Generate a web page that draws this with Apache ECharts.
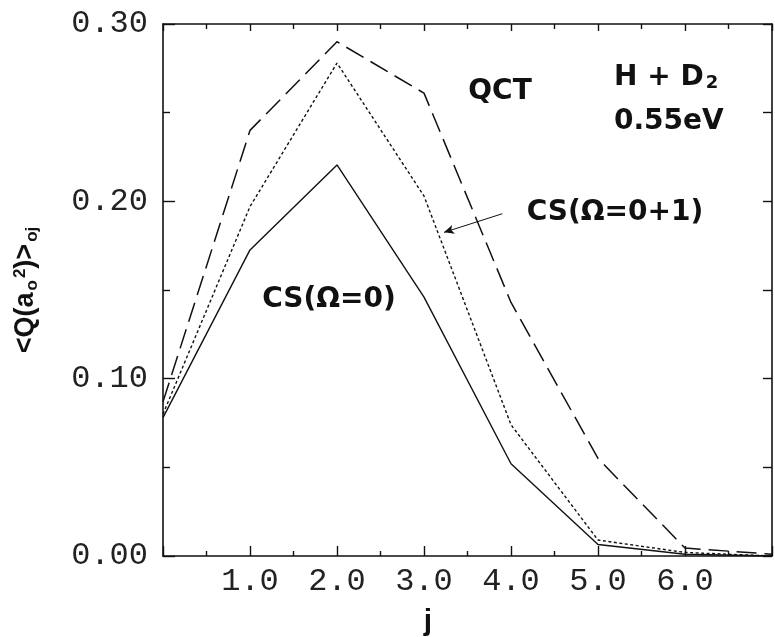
<!DOCTYPE html>
<html>
<head>
<meta charset="utf-8">
<script src="https://cdn.jsdelivr.net/npm/echarts@6/dist/echarts.min.js"></script>
<style>
html,body{margin:0;padding:0;background:#fff;}
#chart{width:775px;height:637px;}
</style>
</head>
<body>
<div id="chart"></div>
<script>
// Data
var jValues = [0, 1, 2, 3, 4, 5, 6, 7];
var qct     = [0.087, 0.240, 0.290, 0.261, 0.143, 0.055, 0.0045, 0.001];
var cs01    = [0.080, 0.197, 0.278, 0.203, 0.074, 0.009, 0.002, 0.000];
var cs0     = [0.078, 0.1726, 0.2205, 0.146, 0.052, 0.0065, 0.001, 0.000];
var xTickLabels = ['', '1.0', '2.0', '3.0', '4.0', '5.0', '6.0', ''];
var yTickLabels = ['0.00', '0.10', '0.20', '0.30'];
var arrowFrom = [3.90, 0.193];
var arrowTo   = [3.23, 0.1825];

function pairs(ys){ return jValues.map(function(x,i){ return [x, ys[i]]; }); }

var chart = echarts.init(document.getElementById('chart'), null, {renderer:'canvas'});
var tickFont = {fontFamily:'Liberation Mono', fontSize:32, color:'#222'};
var noteFont = 'DejaVu Sans';
var lineSt = {color:'#111', width:1.6};
var tickSt = {color:'#111', width:1.4};

var option = {
  backgroundColor:'#fff',
  animation:false,
  grid:{left:163, right:-4, top:24, bottom:81},
  xAxis:[{
    type:'value', min:0, max:7, interval:1, position:'bottom',
    axisLine:{show:true, onZero:false, lineStyle:lineSt},
    axisTick:{show:true, inside:true, length:10, lineStyle:tickSt},
    minorTick:{show:true, splitNumber:2, length:5, lineStyle:tickSt},
    splitLine:{show:false},
    axisLabel:Object.assign({margin:10, formatter:function(v){ return xTickLabels[Math.round(v)] || ''; }}, tickFont)
  },{
    type:'value', min:0, max:7, interval:1, position:'top',
    axisLine:{show:true, onZero:false, lineStyle:lineSt},
    axisTick:{show:true, inside:true, length:7, lineStyle:tickSt},
    minorTick:{show:true, splitNumber:2, length:5, lineStyle:tickSt},
    splitLine:{show:false},
    axisLabel:{show:false}
  }],
  yAxis:[{
    type:'value', min:0, max:0.3, interval:0.1, position:'left',
    axisLine:{show:true, onZero:false, lineStyle:lineSt},
    axisTick:{show:true, inside:true, length:12, lineStyle:tickSt},
    minorTick:{show:true, splitNumber:2, length:7, lineStyle:tickSt},
    splitLine:{show:false},
    axisLabel:Object.assign({margin:15, formatter:function(v){ return yTickLabels[Math.round(v*10)]; }}, tickFont)
  },{
    type:'value', min:0, max:0.3, interval:0.05, position:'right',
    axisLine:{show:true, onZero:false, lineStyle:lineSt},
    axisTick:{show:true, inside:true, length:9, lineStyle:tickSt},
    splitLine:{show:false},
    axisLabel:{show:false}
  }],
  series:[
    {type:'line', name:'QCT', data:pairs(qct), symbol:'none', xAxisIndex:0, yAxisIndex:0,
     lineStyle:{color:'#111', width:1.5, type:[20,8]}},
    {type:'line', name:'CS(Ω=0+1)', data:pairs(cs01), symbol:'none', xAxisIndex:0, yAxisIndex:0,
     lineStyle:{color:'#111', width:1.4, type:[3,2.5]},
     markLine:{silent:true, symbol:['none','arrow'], symbolSize:[7,10], label:{show:false},
       lineStyle:{color:'#111', width:1, type:'solid'},
       data:[[{coord:arrowFrom},{coord:arrowTo}]]}},
    {type:'line', name:'CS(Ω=0)', data:pairs(cs0), symbol:'none', xAxisIndex:0, yAxisIndex:0,
     lineStyle:{color:'#111', width:1.4, type:'solid'}}
  ],
  graphic:[
    {type:'text', x:500, y:92, style:{text:'QCT', font:'bold 28px '+noteFont, fill:'#111', textAlign:'center', textVerticalAlign:'middle'}},
    {type:'text', x:614, y:78, style:{text:'H + D{s|2}', font:'bold 28px '+noteFont, fill:'#111', textAlign:'left', textVerticalAlign:'middle',
       rich:{s:{fontSize:18, fontWeight:'bold', fontFamily:noteFont, verticalAlign:'bottom', padding:[8,0,0,2]}}}},
    {type:'text', x:614, y:122, style:{text:'0.55eV', font:'bold 28px '+noteFont, fill:'#111', textAlign:'left', textVerticalAlign:'middle'}},
    {type:'text', x:615, y:213, style:{text:'CS(Ω=0+1)', font:'bold 28px '+noteFont, fill:'#111', textAlign:'center', textVerticalAlign:'middle'}},
    {type:'text', x:329, y:300, style:{text:'CS(Ω=0)', font:'bold 28px '+noteFont, fill:'#111', textAlign:'center', textVerticalAlign:'middle'}},
    {type:'text', x:428, y:622, style:{text:'j', font:'bold 30px Liberation Sans', fill:'#111', textAlign:'center', textVerticalAlign:'middle'}},
    {type:'text', x:26, y:290, rotation:Math.PI/2,
     style:{text:'<Q(a{sub|o}{sup|2})>{sub|oj}', font:'bold 27px Liberation Sans', fill:'#111', textAlign:'center', textVerticalAlign:'middle',
       rich:{
         sub:{fontSize:17, fontWeight:'bold', fontFamily:'Liberation Sans', verticalAlign:'bottom', padding:[10,0,0,2]},
         sup:{fontSize:17, fontWeight:'bold', fontFamily:'Liberation Sans', verticalAlign:'top', padding:[0,0,12,2]}
       }}}
  ]
};
chart.setOption(option);
</script>
</body>
</html>
